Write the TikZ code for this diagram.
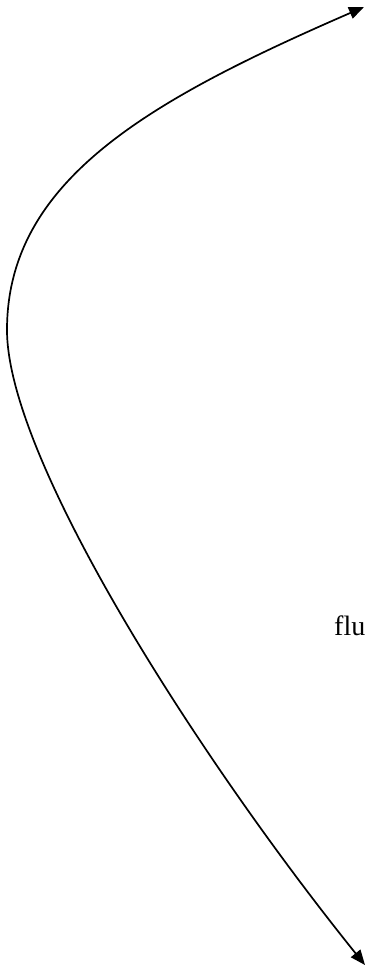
\documentclass[tikz,border=0pt]{standalone}
\usepackage{fontspec}
\setmainfont{Liberation Serif}
\usetikzlibrary{arrows.meta,positioning}
\tikzset{
  flowln/.style={{Triangle[length=15pt,width=12pt]}-{Triangle[length=15pt,width=12pt]}, line width=1.7pt, line join=round},
  labeltxt/.style={font=\fontsize{28}{32}\selectfont, inner sep=0pt, anchor=base west},
}
\begin{document}
\begin{tikzpicture}[x=1pt,y=-1pt]
      \useasboundingbox (0,0) rectangle (369,973);
      % end points and turning point of the streamline
      \coordinate (top) at (364,7);
      \coordinate (turn) at (7,330);
      \coordinate (bot) at (365,965);
      \draw[flowln] (top) .. controls (150,100) and (7,180) .. (turn)
        .. controls (7,460) and (200,760) .. (bot);
      \node[labeltxt] (flu) at (334,635) {flu};
    \end{tikzpicture}
\end{document}
